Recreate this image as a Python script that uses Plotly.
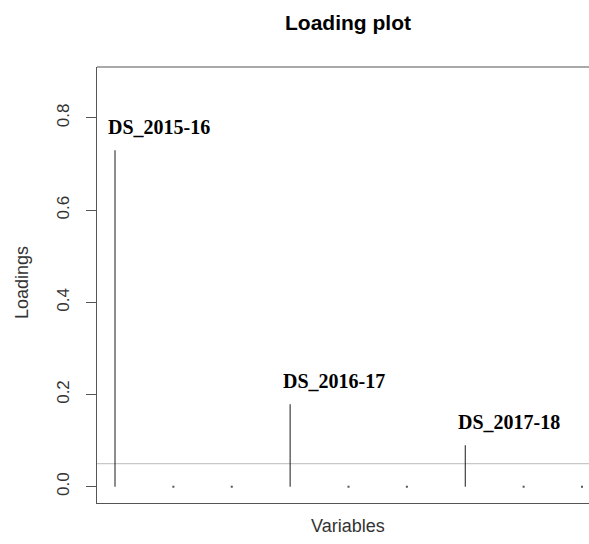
import plotly.graph_objects as go

# Data
var_index = [1, 2, 3, 4, 5, 6, 7, 8, 9]
loadings = [0.73, 0.0, 0.0, 0.179, 0.0, 0.0, 0.09, 0.0, 0.0]
var_labels = ["DS_2015-16", "", "", "DS_2016-17", "", "", "DS_2017-18", "", ""]
threshold = 0.05
y_ticks = [0.0, 0.2, 0.4, 0.6, 0.8]
y_tick_text = ["0.0", "0.2", "0.4", "0.6", "0.8"]

W, H = 589, 544
L, T, B, R = 97, 67, 41, 0
plot_w = W - L - R
plot_h = H - T - B

# stems (type = "h")
sx, sy = [], []
for xv, yv in zip(var_index, loadings):
    sx += [xv, xv, None]
    sy += [0, yv, None]

zx = [xv for xv, yv in zip(var_index, loadings) if yv == 0]
zy = [yv for yv in loadings if yv == 0]

fig = go.Figure()
fig.add_trace(go.Scatter(x=sx, y=sy, mode="lines",
                         line=dict(color="#1a1a1a", width=1),
                         hoverinfo="skip", showlegend=False))
fig.add_trace(go.Scatter(x=zx, y=zy, mode="markers",
                         marker=dict(color="#555555", size=2, symbol="square"),
                         hoverinfo="skip", showlegend=False))

# threshold line
fig.add_shape(type="line", xref="paper", yref="y", x0=0, x1=1,
              y0=threshold, y1=threshold,
              line=dict(color="#c8c8c8", width=1.2), layer="below")
# top border of box
fig.add_shape(type="line", xref="paper", yref="paper", x0=0, x1=1, y0=1, y1=1,
              line=dict(color="#555555", width=1.2))

# variable labels
for xv, yv, lab in zip(var_index, loadings, var_labels):
    if lab:
        fig.add_annotation(x=xv, y=yv, text="<b>" + lab + "</b>",
                           showarrow=False, xanchor="left", yanchor="middle",
                           xshift=-9, yshift=23,
                           font=dict(family="Liberation Serif", size=20, color="#000000"))

def px_to_paper_x(px):
    return (px - L) / plot_w

def px_to_paper_y(py):
    return (H - B - py) / plot_h

fig.add_annotation(text="<b>Loading plot</b>", xref="paper", yref="paper",
                   x=px_to_paper_x(348), y=px_to_paper_y(23),
                   xanchor="center", yanchor="middle", showarrow=False,
                   font=dict(family="Liberation Sans", size=21, color="#000000"))
fig.add_annotation(text="Variables", xref="paper", yref="paper",
                   x=px_to_paper_x(348), y=px_to_paper_y(526),
                   xanchor="center", yanchor="middle", showarrow=False,
                   font=dict(family="Liberation Sans", size=18, color="#333333"))
fig.add_annotation(text="Loadings", xref="paper", yref="paper",
                   x=px_to_paper_x(22), y=px_to_paper_y(283), textangle=-90,
                   xanchor="center", yanchor="middle", showarrow=False,
                   font=dict(family="Liberation Sans", size=18, color="#333333"))

fig.update_layout(
    width=W, height=H,
    margin=dict(l=L, r=R, t=T, b=B, pad=0),
    paper_bgcolor="white", plot_bgcolor="white",
    xaxis=dict(range=[0.6917, 9.12], showgrid=False, zeroline=False,
               showticklabels=False, ticks="", showline=True,
               linecolor="#555555", linewidth=1.2, mirror=False),
    yaxis=dict(range=[-0.0353, 0.9106], showgrid=False, zeroline=False,
               tickvals=y_ticks, ticktext=y_tick_text, tickangle=-90,
               ticks="outside", ticklen=10, tickcolor="#555555", tickwidth=1,
               showline=True, linecolor="#555555", linewidth=1.2, mirror=False,
               ticklabelstandoff=10,
               tickfont=dict(family="Liberation Sans", size=17, color="#333333")),
)

fig.write_html("out.html")
